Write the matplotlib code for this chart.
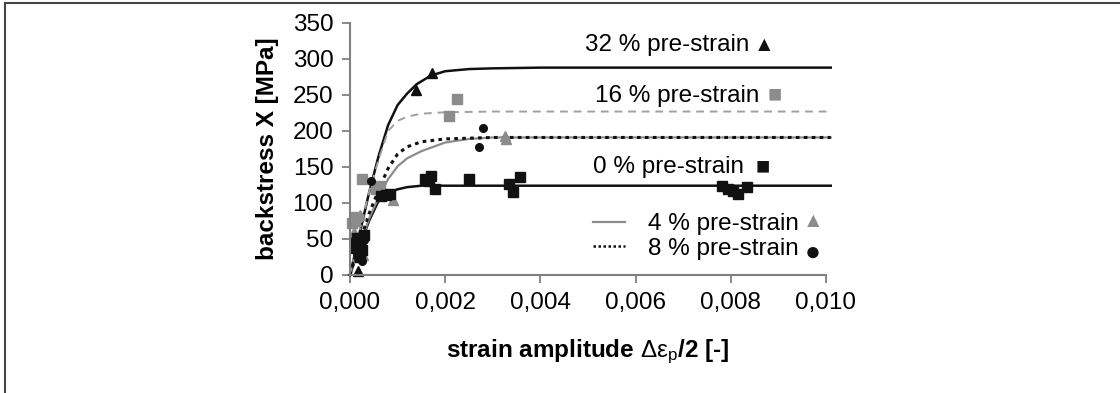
import matplotlib
matplotlib.use("Agg")
import matplotlib.pyplot as plt
from matplotlib.lines import Line2D
from matplotlib.ticker import FuncFormatter, MultipleLocator

plt.rcParams['font.family'] = ['Liberation Sans', 'DejaVu Sans']
plt.rcParams['mathtext.fontset'] = 'custom'
plt.rcParams['mathtext.rm'] = 'Liberation Sans'
plt.rcParams['mathtext.it'] = 'Liberation Sans'

BLACK = '#111111'
GRAY = '#8c8c8c'

# fitted curves (strain amplitude, backstress MPa)
fit0_x = [0, 0.0002, 0.0004, 0.0006, 0.0008, 0.0010, 0.0012, 0.0015, 0.0020, 0.0101]
fit0_y = [0, 40, 75, 103, 114, 119, 122, 124, 124, 124]
fit4_x = [0, 0.0002, 0.0004, 0.0006, 0.0008, 0.0010, 0.0012, 0.0015, 0.0020, 0.0025, 0.0030, 0.0101]
fit4_y = [0, 40, 78, 108, 133, 151, 162, 172, 184, 189, 191, 191]
fit8_x = [0, 0.0002, 0.0004, 0.0006, 0.0008, 0.0010, 0.0012, 0.0015, 0.0020, 0.0030, 0.0101]
fit8_y = [0, 45, 85, 118, 148, 168, 178, 185, 189, 191, 191]
fit16_x = [0, 0.0002, 0.0004, 0.0006, 0.0008, 0.0010, 0.0012, 0.0015, 0.0020, 0.0030, 0.0101]
fit16_y = [0, 60, 115, 160, 200, 214, 220, 224, 226, 227, 227]
fit32_x = [0, 0.0002, 0.0004, 0.0006, 0.0008, 0.0010, 0.0012, 0.0014, 0.0017, 0.0020, 0.0025, 0.0030, 0.0040, 0.0101]
fit32_y = [0, 57, 114, 165, 208, 236, 252, 265, 277, 283, 286, 287, 288, 288]

# measured points
p0_x = [0.00010, 0.00012, 0.00015, 0.00018, 0.00020, 0.00022, 0.00025, 0.00030, 0.00065, 0.00075,
        0.00085, 0.00158, 0.00165, 0.00170, 0.00178, 0.00250, 0.00335, 0.00342, 0.00357,
        0.00782, 0.00795, 0.00805, 0.00815, 0.00835]
p0_y = [45, 38, 52, 30, 42, 25, 35, 55, 110, 111, 112, 133, 130, 137, 120, 134, 126, 115, 136,
        123, 120, 117, 113, 122]
p4_x = [0.00008, 0.00012, 0.00020, 0.00028, 0.00062, 0.00090, 0.00325, 0.00328]
p4_y = [60, 75, 84, 28, 123, 104, 193, 189]
p8_x = [0.00010, 0.00015, 0.00020, 0.00025, 0.00030, 0.00045, 0.00272, 0.00280]
p8_y = [40, 28, 33, 20, 48, 130, 178, 204]
p16_x = [0.00005, 0.00012, 0.00026, 0.00055, 0.00062, 0.00207, 0.00224]
p16_y = [72, 80, 133, 120, 124, 221, 244]
p32_x = [0.00012, 0.00017, 0.00139, 0.00172]
p32_y = [48, 6, 257, 281]

FS = 17.5

fig = plt.figure(figsize=(11.2, 3.93), dpi=100)
ax = fig.add_axes([0.3125, 0.3003, 0.425, 0.6412])

ax.plot(fit0_x, fit0_y, color=BLACK, lw=1.8, clip_on=False)
ax.plot(fit4_x, fit4_y, color=GRAY, lw=1.6, clip_on=False)
ax.plot(fit32_x, fit32_y, color=BLACK, lw=1.8, clip_on=False)
ax.plot(fit16_x, fit16_y, color='#a0a0a0', lw=1.4, ls=(0, (4, 3)), clip_on=False)
ax.plot(fit8_x, fit8_y, color=BLACK, lw=2.2, ls=(0, (1.2, 1.4)), clip_on=False)

ax.plot(p4_x, p4_y, ls='none', marker='^', ms=7, color=GRAY, clip_on=False)
ax.plot(p16_x, p16_y, ls='none', marker='s', ms=6.5, color=GRAY, clip_on=False)
ax.plot(p0_x, p0_y, ls='none', marker='s', ms=6.5, color=BLACK, clip_on=False)
ax.plot(p8_x, p8_y, ls='none', marker='o', ms=5.5, color=BLACK, clip_on=False)
ax.plot(p32_x, p32_y, ls='none', marker='^', ms=7, color=BLACK, clip_on=False)

ax.set_xlim(0, 0.010)
ax.set_ylim(0, 350)
ax.xaxis.set_major_locator(MultipleLocator(0.002))
ax.yaxis.set_major_locator(MultipleLocator(50))
ax.xaxis.set_major_formatter(FuncFormatter(lambda v, p: f"{v:.3f}".replace('.', ',')))

for side in ['top', 'right']:
    ax.spines[side].set_visible(False)
for side in ['left', 'bottom']:
    ax.spines[side].set_color('#808080')
    ax.spines[side].set_linewidth(1.5)
ax.tick_params(direction='out', length=6, width=1.3, color='#808080', labelsize=FS, pad=6)

ax.set_ylabel('backstress X [MPa]', fontsize=FS, fontweight='bold', labelpad=10)
ax.set_xlabel(r'strain amplitude $\mathrm{\Delta\varepsilon_p}$/2 [-]', fontsize=FS,
              fontweight='bold', labelpad=17)

# curve labels
ax.text(0.00494, 319, '32 % pre-strain', fontsize=FS, va='center', ha='left')
ax.text(0.00870, 319, '▲', fontsize=15, va='center', ha='center', color=BLACK)
ax.text(0.00515, 249, '16 % pre-strain', fontsize=FS, va='center', ha='left')
ax.text(0.00893, 249, '■', fontsize=17, va='center', ha='center', color=GRAY)
ax.text(0.00510, 150, '0 % pre-strain', fontsize=FS, va='center', ha='left')
ax.text(0.00868, 150, '■', fontsize=17, va='center', ha='center', color=BLACK)
ax.text(0.00973, 73.6, '▲', fontsize=15, va='center', ha='center', color=GRAY)
ax.text(0.00973, 31, '●', fontsize=19, va='center', ha='center', color=BLACK)

handles = [Line2D([0], [0], color=GRAY, lw=1.6),
           Line2D([0], [0], color=BLACK, lw=1.8, ls=(0, (1, 1)))]
ax.legend(handles, ['4 % pre-strain', '8 % pre-strain'], loc='center left',
          bbox_to_anchor=(0.5105, 0.1528), frameon=False, fontsize=FS,
          handlelength=1.3, handletextpad=0.95, labelspacing=0.1,
          borderpad=0, borderaxespad=0)

# outer frame (left and top edges only)
fig.add_artist(Line2D([0.0045, 0.0045], [0, 0.9924], color='#444444', lw=1.5))
fig.add_artist(Line2D([0.0045, 1], [0.9924, 0.9924], color='#444444', lw=1.5))

fig.savefig('out.png', dpi=100)
